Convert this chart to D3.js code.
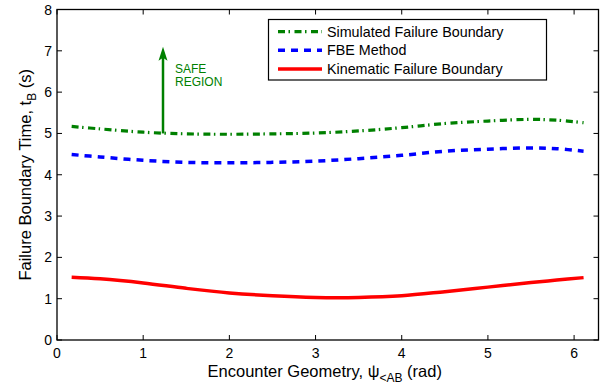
<!DOCTYPE html>
<html><head><meta charset="utf-8">
<script src="https://cdn.jsdelivr.net/npm/d3@7"></script>
<style>
body{margin:0;background:#fff;}
text{font-family:"Liberation Sans",Arial,Helvetica,sans-serif;}
</style></head>
<body><svg id="c" width="603" height="386"></svg>
<script>
const psi = [0.17, 0.5, 1.0, 1.5, 2.0, 2.5, 3.0, 3.5, 4.0, 4.5, 5.0, 5.5, 5.8, 6.11];
const simulated = [5.17, 5.11, 5.03, 4.99, 4.98, 4.99, 5.01, 5.06, 5.14, 5.24, 5.30, 5.34, 5.32, 5.26];
const fbe = [4.49, 4.43, 4.35, 4.30, 4.29, 4.30, 4.33, 4.39, 4.47, 4.57, 4.62, 4.65, 4.63, 4.57];
const kinematic = [1.52, 1.48, 1.38, 1.25, 1.14, 1.07, 1.03, 1.03, 1.07, 1.17, 1.28, 1.39, 1.45, 1.51];
const xTicks = [0, 1, 2, 3, 4, 5, 6];
const yTicks = [0, 1, 2, 3, 4, 5, 6, 7, 8];
const seriesNames = ["Simulated Failure Boundary", "FBE Method", "Kinematic Failure Boundary"];
const arrowX = 1.23, arrowFrom = 5.0, arrowTo = 7.1;

const svg = d3.select("#c");
const L = 57, R = 598.5, T = 9.5, B = 340;
const x = d3.scaleLinear().domain([0, 2*Math.PI]).range([L, R]);
const y = d3.scaleLinear().domain([0, 8]).range([B, T]);

// ticks (inward, all four sides)
const tl = 5;
const g = svg.append("g");
xTicks.forEach(v => {
  g.append("line").attr("x1", x(v)).attr("x2", x(v)).attr("y1", B).attr("y2", B - tl).attr("stroke", "#000");
  g.append("line").attr("x1", x(v)).attr("x2", x(v)).attr("y1", T).attr("y2", T + tl).attr("stroke", "#000");
  g.append("text").attr("x", x(v)).attr("y", B + 18).attr("text-anchor", "middle").attr("font-size", 14).text(v);
});
yTicks.forEach(v => {
  g.append("line").attr("x1", L).attr("x2", L + tl).attr("y1", y(v)).attr("y2", y(v)).attr("stroke", "#000");
  g.append("line").attr("x1", R).attr("x2", R - tl).attr("y1", y(v)).attr("y2", y(v)).attr("stroke", "#000");
  g.append("text").attr("x", L - 5).attr("y", y(v) + 5).attr("text-anchor", "end").attr("font-size", 14).text(v);
});

const line = d3.line().x(d => x(d[0])).y(d => y(d[1])).curve(d3.curveCatmullRom);
const styles = [
  {data: simulated, color: "#008000", w: 3.2, dash: "7,3.5,1.5,4.5"},
  {data: fbe, color: "#0000ff", w: 3.5, dash: "7,6"},
  {data: kinematic, color: "#ff0000", w: 3.5, dash: null}
];
styles.forEach(s => {
  svg.append("path").datum(psi.map((p, i) => [p, s.data[i]]))
    .attr("d", line).attr("fill", "none").attr("stroke", s.color)
    .attr("stroke-width", s.w).attr("stroke-dasharray", s.dash);
});

// arrow annotation
const ax = x(arrowX);
svg.append("line").attr("x1", ax).attr("x2", ax).attr("y1", y(arrowFrom)).attr("y2", y(arrowTo) + 10)
  .attr("stroke", "#008000").attr("stroke-width", 2.5);
svg.append("path").attr("d", `M${ax},${y(arrowTo)} L${ax-4.5},${y(arrowTo)+14} L${ax},${y(arrowTo)+11} L${ax+4.5},${y(arrowTo)+14} Z`)
  .attr("fill", "#008000");
svg.append("text").attr("x", ax + 12).attr("y", 72.5).attr("font-size", 12).attr("fill", "#008000").text("SAFE");
svg.append("text").attr("x", ax + 12).attr("y", 86).attr("font-size", 12).attr("fill", "#008000").text("REGION");

// frame
svg.append("rect").attr("x", L).attr("y", T).attr("width", R - L).attr("height", B - T)
  .attr("fill", "none").attr("stroke", "#000").attr("stroke-width", 1.3);

// legend
const lg = svg.append("g");
lg.append("rect").attr("x", 268.5).attr("y", 19.5).attr("width", 278).attr("height", 60.5)
  .attr("fill", "#fff").attr("stroke", "#000").attr("stroke-width", 1.2);
const rows = [31.7, 50.2, 68.9];
seriesNames.forEach((n, i) => {
  const s = styles[i];
  lg.append("line").attr("x1", 278).attr("x2", 322).attr("y1", rows[i]).attr("y2", rows[i])
    .attr("stroke", s.color).attr("stroke-width", s.w).attr("stroke-dasharray", s.dash);
  lg.append("text").attr("x", 327).attr("y", rows[i] + 5).attr("font-size", 14.3).text(n);
});

// axis titles
const xt = svg.append("text").attr("x", (L + R) / 2 - 3).attr("y", 377).attr("text-anchor", "middle").attr("font-size", 16.5);
xt.append("tspan").text("Encounter Geometry, \u03C8");
xt.append("tspan").attr("font-size", 12).attr("dy", 5).text("<AB");
xt.append("tspan").attr("dy", -5).text(" (rad)");

const yt = svg.append("text").attr("transform", `translate(31,${(T + B) / 2}) rotate(-90)`)
  .attr("text-anchor", "middle").attr("font-size", 16.5);
yt.append("tspan").text("Failure Boundary Time, t");
yt.append("tspan").attr("font-size", 12).attr("dy", 5).text("B");
yt.append("tspan").attr("dy", -5).text(" (s)");
</script></body></html>
